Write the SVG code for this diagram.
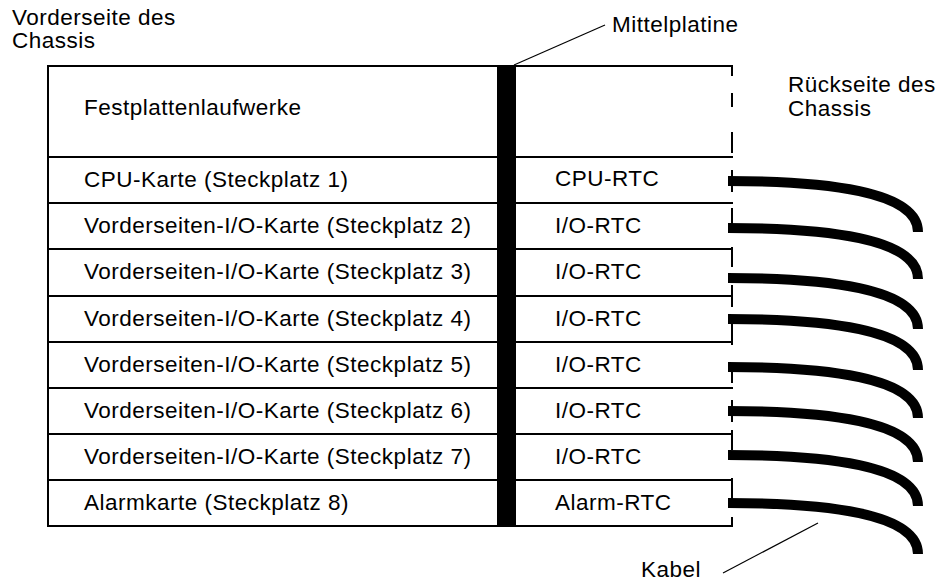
<svg xmlns="http://www.w3.org/2000/svg" width="947" height="583" viewBox="0 0 947 583">
<style>
text{font-family:"Liberation Sans",Arial,Helvetica,sans-serif;font-size:22.5px;letter-spacing:0.5px;fill:#000}
.ln{stroke:#000;stroke-width:2;fill:none}
.cab{stroke:#000;stroke-width:10;fill:none;stroke-linecap:butt}
.thin{stroke:#000;stroke-width:1.2;fill:none}
</style>
<defs>
<path id="cable" d="M728,0 C825,0 918,10 918,51"/>
</defs>
<rect width="947" height="583" fill="#fff"/>
<g id="chassis">
<path class="ln" d="M733,66 H48 V526 H733"/>
<path class="ln" d="M732,65V76M732,93V107M732,132V153M732,170V192M732,208V232M732,247V267M732,285V307M732,315V345M732,368V383M732,400V422M732,430V450M732,478V500M732,517V527"/>
</g>
<g id="drives">
<text x="84" y="115">Festplattenlaufwerke</text>
</g>
<g id="slot1"><path class="ln" d="M48,157H733"/><text x="84" y="187">CPU-Karte (Steckplatz 1)</text><text x="555" y="186">CPU-RTC</text></g>
<g id="slot2"><path class="ln" d="M48,203H733"/><text x="84" y="233">Vorderseiten-I/O-Karte (Steckplatz 2)</text><text x="555" y="233">I/O-RTC</text></g>
<g id="slot3"><path class="ln" d="M48,249H733"/><text x="84" y="279">Vorderseiten-I/O-Karte (Steckplatz 3)</text><text x="555" y="279">I/O-RTC</text></g>
<g id="slot4"><path class="ln" d="M48,296H733"/><text x="84" y="326">Vorderseiten-I/O-Karte (Steckplatz 4)</text><text x="555" y="326">I/O-RTC</text></g>
<g id="slot5"><path class="ln" d="M48,342H733"/><text x="84" y="372">Vorderseiten-I/O-Karte (Steckplatz 5)</text><text x="555" y="372">I/O-RTC</text></g>
<g id="slot6"><path class="ln" d="M48,388H733"/><text x="84" y="418">Vorderseiten-I/O-Karte (Steckplatz 6)</text><text x="555" y="418">I/O-RTC</text></g>
<g id="slot7"><path class="ln" d="M48,434H733"/><text x="84" y="464">Vorderseiten-I/O-Karte (Steckplatz 7)</text><text x="555" y="464">I/O-RTC</text></g>
<g id="slot8"><path class="ln" d="M48,480H733"/><text x="84" y="510">Alarmkarte (Steckplatz 8)</text><text x="555" y="510">Alarm-RTC</text></g>
<g id="midplane"><rect x="497" y="66" width="19" height="460" fill="#000"/></g>
<g id="connectors">
<use href="#cable" class="cab" y="181"/>
<use href="#cable" class="cab" y="228"/>
<use href="#cable" class="cab" y="278"/>
<use href="#cable" class="cab" y="319"/>
<use href="#cable" class="cab" y="367"/>
<use href="#cable" class="cab" y="411"/>
<use href="#cable" class="cab" y="455"/>
<use href="#cable" class="cab" y="503"/>
<path class="thin" d="M514,65L605,25"/>
<path class="thin" d="M723,573L818,523"/>
</g>
<g id="labels">
<text x="12" y="25">Vorderseite des</text>
<text x="12" y="48">Chassis</text>
<text x="612" y="32">Mittelplatine</text>
<text x="788" y="92">Rückseite des</text>
<text x="788" y="116">Chassis</text>
<text x="641" y="577">Kabel</text>
</g>
</svg>
